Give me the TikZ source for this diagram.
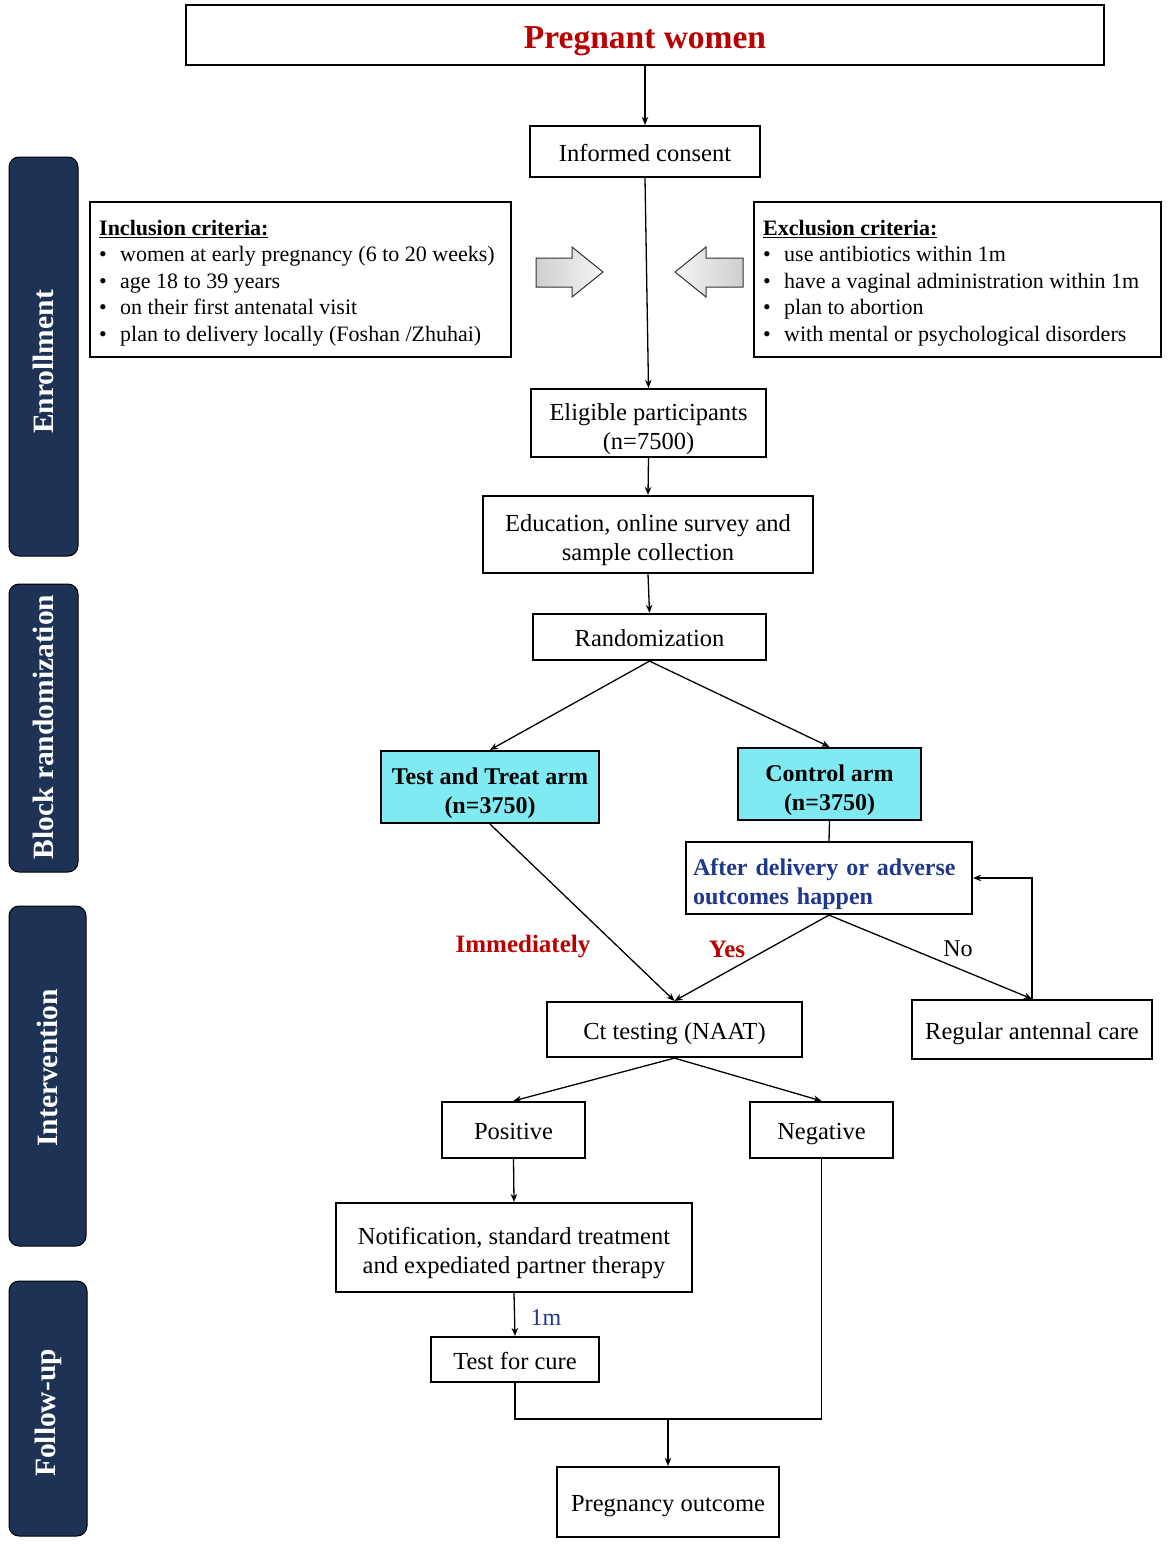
\documentclass[tikz,border=0pt]{standalone}
\usepackage{fontspec}
\setmainfont{Liberation Serif}
\usetikzlibrary{arrows.meta}
\definecolor{navybar}{RGB}{30,50,86}
\definecolor{armcyan}{RGB}{128,234,242}
\definecolor{darkred}{RGB}{185,0,0}
\definecolor{darkblue}{RGB}{31,56,140}
\tikzset{
  textdrop/.style={execute at begin node={\rule{0pt}{\dimexpr0.7\baselineskip+#1\relax}\rule[-0.3\baselineskip]{0pt}{0pt}}},
  box/.style={draw=black, line width=2.2pt, fill=white, inner sep=0pt, align=flush center,
    font=\fontsize{24.5}{29}\selectfont, textdrop=8pt},
  armbox/.style={box, fill=armcyan, font=\fontsize{24}{29}\selectfont\bfseries},
  critbox/.style={draw=black, line width=2.2pt, inner sep=0pt},
  crittext/.style={inner sep=0pt, anchor=north west, align=left, font=\fontsize{22}{26.5}\selectfont},
  bar/.style={draw=black, line width=1pt, fill=navybar, rounded corners=10pt},
  bartext/.style={rotate=90, text=white, font=\fontsize{29.5}{32}\selectfont\bfseries},
  arr/.style={line width=1.3pt, -{Stealth[length=8pt,width=6.5pt]}},
  ln/.style={line width=1.3pt},
  lab/.style={font=\fontsize{25}{28}\selectfont\bfseries, text=darkred},
  blockarrow/.style={draw=black!80, line width=1pt}
}
\newcommand{\critline}[1]{\makebox[21pt][l]{\textbullet}#1}
\begin{document}
\begin{tikzpicture}[x=1pt,y=-1pt]
\fill[white] (0,0) rectangle (1170,1552);
\useasboundingbox (0,0) rectangle (1170,1552);

% side bars
\draw[bar] (9,157) rectangle (78,556);
\node[bartext] (enr) at (43.5,362) {Enrollment};
\draw[bar] (9,584) rectangle (78,872);
\node[bartext] (blk) at (43.5,727) {Block randomization};
\draw[bar] (9,906) rectangle (86,1246);
\node[bartext] (int) at (47.5,1068) {Intervention};
\draw[bar] (9,1281) rectangle (87,1536);
\node[bartext] (fol) at (48,1413) {Follow-up};

% main boxes
\node[box, minimum width=918pt, minimum height=60pt, font=\fontsize{33.5}{38}\selectfont\bfseries, text=darkred, textdrop=12pt] (pw) at (645,35) {Pregnant women};
\node[box, minimum width=230pt, minimum height=51pt] (ic) at (645,151.5) {Informed consent};
\node[box, minimum width=235pt, minimum height=68pt, text width=228pt, textdrop=3pt] (el) at (648.5,423) {Eligible participants\\(n=7500)};
\node[box, minimum width=330pt, minimum height=77pt, text width=322pt, textdrop=4pt] (ed) at (648,534.5) {Education, online survey and\\sample collection};
\node[box, minimum width=233pt, minimum height=46pt] (rd) at (649.5,637) {Randomization};
\node[armbox, minimum width=218pt, minimum height=72pt, text width=212pt, textdrop=7pt] (tt) at (490,787) {Test and Treat arm\\(n=3750)};
\node[armbox, minimum width=183pt, minimum height=72pt, text width=177pt, textdrop=5pt] (ca) at (829.5,784) {Control arm\\(n=3750)};
\node[box, minimum width=286pt, minimum height=72pt, align=left, text=darkblue, font=\fontsize{24}{29}\selectfont\bfseries, text width=272pt, textdrop=4pt] (ad) at (829,878) {After delivery or adverse\\outcomes happen};
\node[box, minimum width=255pt, minimum height=55pt] (ct) at (674.5,1029.5) {Ct testing (NAAT)};
\node[box, minimum width=240pt, minimum height=59pt] (rc) at (1032,1029.5) {Regular antennal care};
\node[box, minimum width=143pt, minimum height=56pt] (pos) at (513.5,1130) {Positive};
\node[box, minimum width=143pt, minimum height=56pt] (neg) at (821.5,1130) {Negative};
\node[box, minimum width=356pt, minimum height=89pt, text width=350pt, textdrop=4pt] (nt) at (514,1247.5) {Notification, standard treatment\\and expediated partner therapy};
\node[box, minimum width=168pt, minimum height=45pt] (tfc) at (515,1359.5) {Test for cure};
\node[box, minimum width=222pt, minimum height=70pt] (po) at (668,1502) {Pregnancy outcome};

% criteria boxes
\draw[critbox] (90,202) rectangle (511,357);
\node[crittext] (inc) at (99,220) {\underline{\textbf{Inclusion criteria:}}\\
\critline{women at early pregnancy (6 to 20 weeks)}\\
\critline{age 18 to 39 years}\\
\critline{on their first antenatal visit}\\
\critline{plan to delivery locally (Foshan /Zhuhai)}};
\draw[critbox] (754,202) rectangle (1161,357);
\node[crittext] (exc) at (763,220) {\underline{\textbf{Exclusion criteria:}}\\
\critline{use antibiotics within 1m}\\
\critline{have a vaginal administration within 1m}\\
\critline{plan to abortion}\\
\critline{with mental or psychological disorders}};

% block arrows
\draw[blockarrow, left color=gray!38, right color=gray!8] (536,258) -- (572,258) -- (572,247) -- (603,272) -- (572,297) -- (572,287) -- (536,287) -- cycle;
\draw[blockarrow, right color=gray!38, left color=gray!8] (743,258) -- (706,258) -- (706,247) -- (675,272) -- (706,297) -- (706,287) -- (743,287) -- cycle;

% connectors
\draw[arr] (pw.south) -- (ic.north);
\draw[arr] (ic.south) -- (el.north);
\draw[arr] (el.south) -- (ed.north);
\draw[arr] (ed.south) -- (rd.north);
\draw[arr] (rd.south) -- (tt.north);
\draw[arr] (rd.south) -- (ca.north);
\draw[ln] (ca.south) -- (ad.north);
\draw[arr] (tt.south) -- (ct.north);
\draw[arr] (ad.south) -- (ct.north);
\draw[arr] (ad.south) -- (rc.north);
\draw[arr] (rc.north) |- (ad.east);
\draw[arr] (ct.south) -- (pos.north);
\draw[arr] (ct.south) -- (neg.north);
\draw[arr] (pos.south) -- (nt.north);
\draw[arr] (nt.south) -- (tfc.north);
\coordinate (join) at (668,1419);
\draw[ln] (tfc.south) |- (join) -| (neg.south);
\draw[arr] (join) -- (po.north);

% labels
\node[lab] (limm) at (523,947) {Immediately};
\node[lab] (lyes) at (727,949) {Yes};
\node[font=\fontsize{24}{28}\selectfont] (lno) at (958,949) {No};
\node[font=\fontsize{24}{28}\selectfont, text=darkblue] (l1m) at (546,1318) {1m};
\end{tikzpicture}
\end{document}
